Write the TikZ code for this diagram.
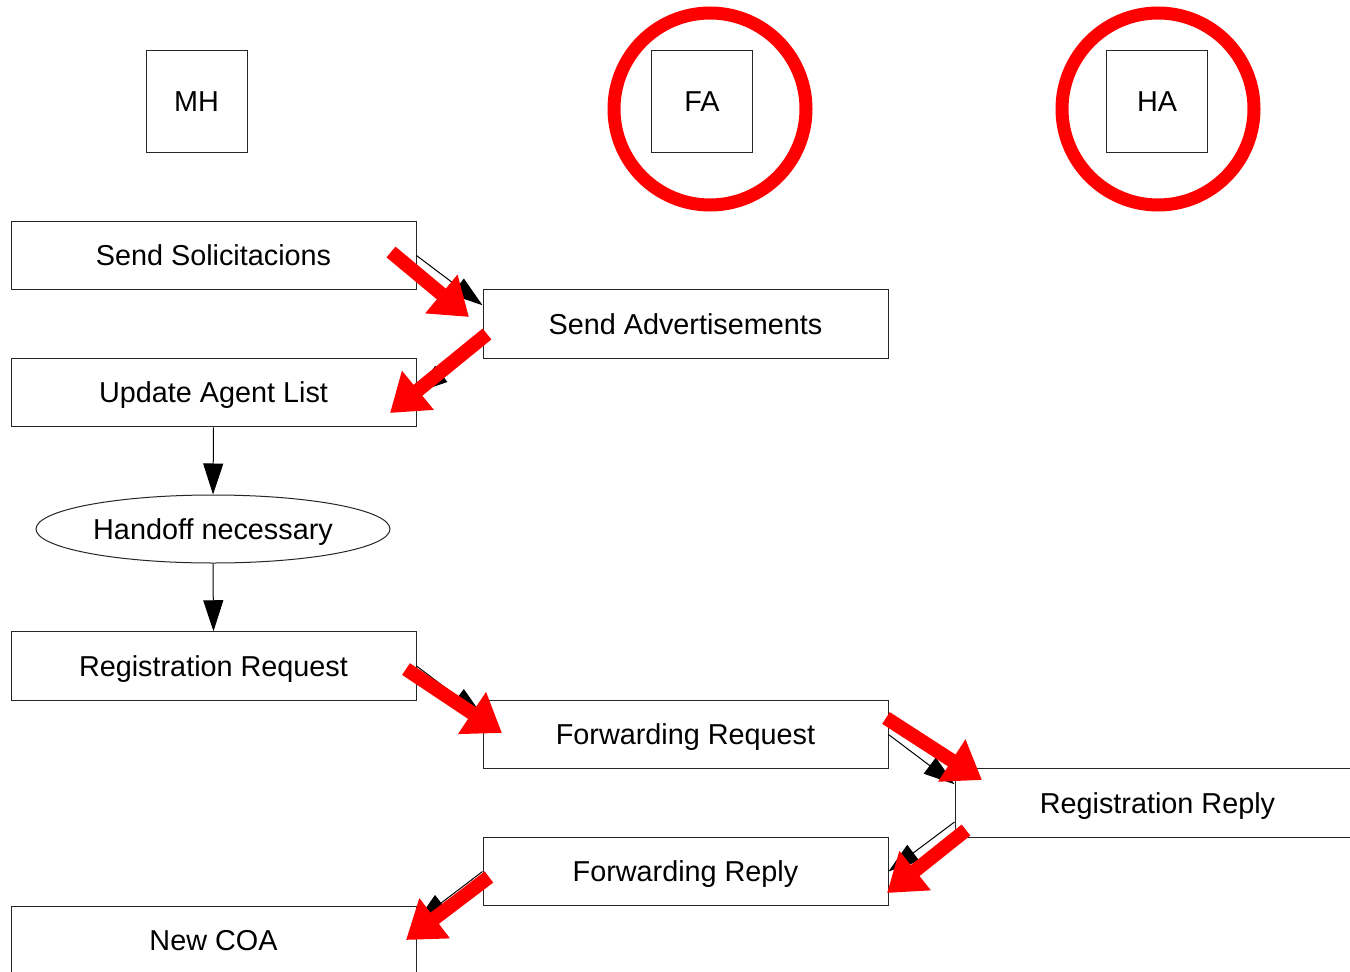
\documentclass[tikz,border=0pt]{standalone}
\usepackage{fontspec}
\setmainfont{Liberation Sans}
\usetikzlibrary{arrows.meta,calc,shapes.geometric}
\begin{document}
\begin{tikzpicture}[x=1pt,y=-1pt,
  every node/.style={font=\fontsize{28.8}{34}\selectfont, inner sep=0pt, text height=20.6pt, text depth=0pt},
  box/.style={draw=black!85, line width=1pt, fill=white, minimum width=405pt, minimum height=68.5pt},
  agent/.style={draw=black!85, line width=1pt, fill=white, minimum width=101pt, minimum height=102pt},
  oval/.style={draw=black!85, line width=1pt, fill=white, ellipse, minimum width=354pt, minimum height=68pt},
  conn/.style={draw=black, line width=1pt, -{Triangle[length=31pt,width=20pt]}},
  redarrow/.style={draw=red, line width=14pt, -{Triangle[length=36pt,width=48pt]}},
  ring/.style={draw=red, line width=13pt}]
\useasboundingbox (0,0) rectangle (1350,972);
\clip (0,0) rectangle (1350,972);
\fill[white] (0,0) rectangle (1350,972);

% agents with red rings
\draw[ring] (710,109) circle[radius=96];
\draw[ring] (1158,109) circle[radius=96];
\node[agent] (mh) at (196.5,101) {MH};
\node[agent] (fa) at (702,101) {FA};
\node[agent] (ha) at (1157,101) {HA};

% steps
\node[box] (ss) at (213.5,255.5) {Send Solicitacions};
\node[box] (sa) at (685.5,324) {Send Advertisements};
\node[box] (ua) at (213.5,392.5) {Update Agent List};
\node[oval] (hn) at (213,529) {Handoff necessary};
\node[box] (rr) at (213.5,666) {Registration Request};
\node[box] (fr) at (685.5,734.5) {Forwarding Request};
\node[box] (rp) at (1157.5,803) {Registration Reply};
\node[box] (fp) at (685.5,871.5) {Forwarding Reply};
\node[box] (nc) at (213.5,940.5) {New COA};

% black connectors
\draw[conn] (ss.east) -- ($(sa.north west)+(0,16)$);
\draw[conn] ($(sa.west)+(0,19)$) -- (ua.east);
\draw[conn] (ua.south) -- (hn.north);
\draw[conn] (hn.south) -- (rr.north);
\draw[conn] (rr.east) -- ($(fr.north west)+(0,16)$);
\draw[conn] (fr.east) -- ($(rp.north west)+(0,16)$);
\draw[conn] ($(rp.west)+(0,19)$) -- (fp.east);
\draw[conn] (fp.west) -- ($(nc.north east)+(0,16)$);

% red highlight arrows
\coordinate (r1a) at (391,252); \coordinate (r1b) at (469,317);
\coordinate (r2a) at (487,334); \coordinate (r2b) at (390,413);
\coordinate (r3a) at (406,669); \coordinate (r3b) at (502,733);
\coordinate (r4a) at (886,718); \coordinate (r4b) at (982,780);
\coordinate (r5a) at (966,830); \coordinate (r5b) at (887,893);
\coordinate (r6a) at (489,877); \coordinate (r6b) at (406,940);
\draw[redarrow] (r1a) -- (r1b);
\draw[redarrow] (r2a) -- (r2b);
\draw[redarrow] (r3a) -- (r3b);
\draw[redarrow] (r4a) -- (r4b);
\draw[redarrow] (r5a) -- (r5b);
\draw[redarrow] (r6a) -- (r6b);
\end{tikzpicture}
\end{document}
